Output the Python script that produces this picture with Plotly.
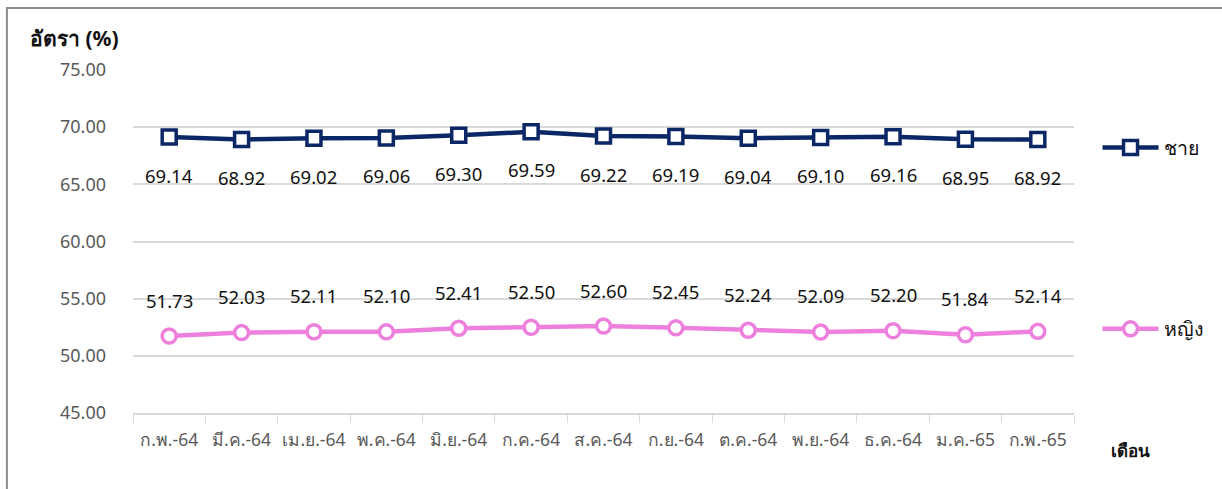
import plotly.graph_objects as go

months = ["ก.พ.-64", "มี.ค.-64", "เม.ย.-64", "พ.ค.-64", "มิ.ย.-64", "ก.ค.-64", "ส.ค.-64",
          "ก.ย.-64", "ต.ค.-64", "พ.ย.-64", "ธ.ค.-64", "ม.ค.-65", "ก.พ.-65"]
male = [69.14, 68.92, 69.02, 69.06, 69.30, 69.59, 69.22, 69.19, 69.04, 69.10, 69.16, 68.95, 68.92]
female = [51.73, 52.03, 52.11, 52.10, 52.41, 52.50, 52.60, 52.45, 52.24, 52.09, 52.20, 51.84, 52.14]
y_ticks = [45, 50, 55, 60, 65, 70, 75]

MALE_C = "#0c2766"
FEMALE_C = "#ee80dd"
FONT = "Noto Sans, Tahoma, sans-serif"

fig = go.Figure()
fig.add_trace(go.Scatter(
    x=months, y=male, name="ชาย", mode="lines+markers",
    line=dict(color=MALE_C, width=4.5),
    marker=dict(symbol="square", size=14, color="white", line=dict(color=MALE_C, width=3.5)),
    legendgroup="m",
))
fig.add_trace(go.Scatter(
    x=months, y=female, name="หญิง", mode="lines+markers",
    line=dict(color=FEMALE_C, width=4.5),
    marker=dict(symbol="circle", size=14, color="white", line=dict(color=FEMALE_C, width=3.5)),
    legendgroup="f",
))

for m, v in zip(months, male):
    fig.add_annotation(x=m, y=v, text=f"{v:.2f}", showarrow=False, yshift=-38,
                       font=dict(size=18.5, color="#111111", family=FONT))
for m, v in zip(months, female):
    fig.add_annotation(x=m, y=v, text=f"{v:.2f}", showarrow=False, yshift=36,
                       font=dict(size=18.5, color="#111111", family=FONT))

fig.add_annotation(xref="paper", yref="paper", x=-0.112, y=1.093, xanchor="left", yanchor="middle",
                   text="<b>อัตรา (%)</b>", showarrow=False,
                   font=dict(size=21, color="#111111", family=FONT))
fig.add_annotation(xref="paper", yref="paper", x=1.037, y=-0.11, xanchor="left", yanchor="middle",
                   text="<b>เดือน</b>", showarrow=False,
                   font=dict(size=17, color="#111111", family=FONT))

fig.add_shape(type="rect", xref="paper", yref="paper", x0=-0.134, x1=1.17, y0=-0.3, y1=1.181,
              line=dict(color="#8c8c8c", width=2), fillcolor="rgba(0,0,0,0)", layer="below")

fig.update_layout(
    width=1222, height=489,
    margin=dict(l=133, r=148, t=70, b=76),
    paper_bgcolor="white", plot_bgcolor="white",
    font=dict(family=FONT, color="#595959", size=18),
    showlegend=True,
    legend=dict(x=1.025, y=0.83, xanchor="left", yanchor="top", tracegroupgap=153,
                font=dict(size=19.5, color="#111111", family=FONT), itemwidth=56,
                bgcolor="rgba(0,0,0,0)"),
    xaxis=dict(type="category", tickson="boundaries", ticks="outside", ticklen=8,
               tickcolor="#d9d9d9", showline=True, linecolor="#d9d9d9", linewidth=1.5,
               showgrid=False, tickfont=dict(size=17.5, color="#595959"),
               ticklabelstandoff=10,
               range=[-0.5, len(months) - 0.5]),
    yaxis=dict(range=[45, 75], tickvals=y_ticks, ticktext=[f"{t:.2f}" for t in y_ticks],
               showgrid=True, gridcolor="#d9d9d9", gridwidth=1.5, zeroline=False,
               showline=False, ticks="", tickfont=dict(size=18, color="#595959"),
               ticklabelstandoff=26),
)

fig.write_html("out.html", config={"displayModeBar": False},
               post_script="document.body.style.margin='0';document.body.style.overflow='hidden';")
